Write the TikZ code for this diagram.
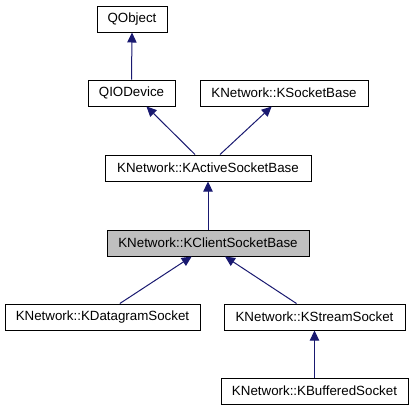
\documentclass[tikz,border=0pt]{standalone}
\usepackage{fontspec}
\setmainfont{Liberation Sans}
\usetikzlibrary{arrows.meta}
\definecolor{edgeblue}{RGB}{25,25,112}
\definecolor{hilite}{RGB}{191,191,191}
\begin{document}
\begin{tikzpicture}[x=0.75pt,y=-0.75pt,
  cls/.style={draw=black,line width=0.75pt,fill=white,inner sep=0pt,
    minimum height=19.5pt,font=\fontsize{10}{12}\selectfont,text=black},
  inh/.style={draw=edgeblue,line width=0.75pt,
    {Triangle[length=7.5pt,width=7pt,fill=edgeblue]}-}]
\useasboundingbox (0,0) rectangle (413,411);
\node[cls,minimum width=52.5pt] (qobj) at (132,19) {QObject};
\node[cls,minimum width=65.25pt] (qio) at (131.5,93) {QIODevice};
\node[cls,minimum width=126pt] (sock) at (284,93) {KNetwork::KSocketBase};
\node[cls,minimum width=154.5pt] (act) at (208,168) {KNetwork::KActiveSocketBase};
\node[cls,minimum width=151.5pt,fill=hilite] (cli) at (208,243) {KNetwork::KClientSocketBase};
\node[cls,minimum width=146.25pt] (dgram) at (102.5,317) {KNetwork::KDatagramSocket};
\node[cls,minimum width=135.75pt] (stream) at (314.5,317) {KNetwork::KStreamSocket};
\node[cls,minimum width=140.25pt] (buf) at (314.5,391) {KNetwork::KBufferedSocket};
\draw[inh] (qobj.south) -- (qio.north);
\draw[inh] ([xshift=11.25pt]qio.south) -- ([xshift=-9.75pt]act.north);
\draw[inh] ([xshift=-9.25pt]sock.south) -- ([xshift=9pt]act.north);
\draw[inh] (act.south) -- (cli.north);
\draw[inh] ([xshift=-12.25pt]cli.south) -- ([xshift=13pt]dgram.north);
\draw[inh] ([xshift=12.75pt]cli.south) -- ([xshift=-13.5pt]stream.north);
\draw[inh] (stream.south) -- (buf.north);
\end{tikzpicture}
\end{document}
